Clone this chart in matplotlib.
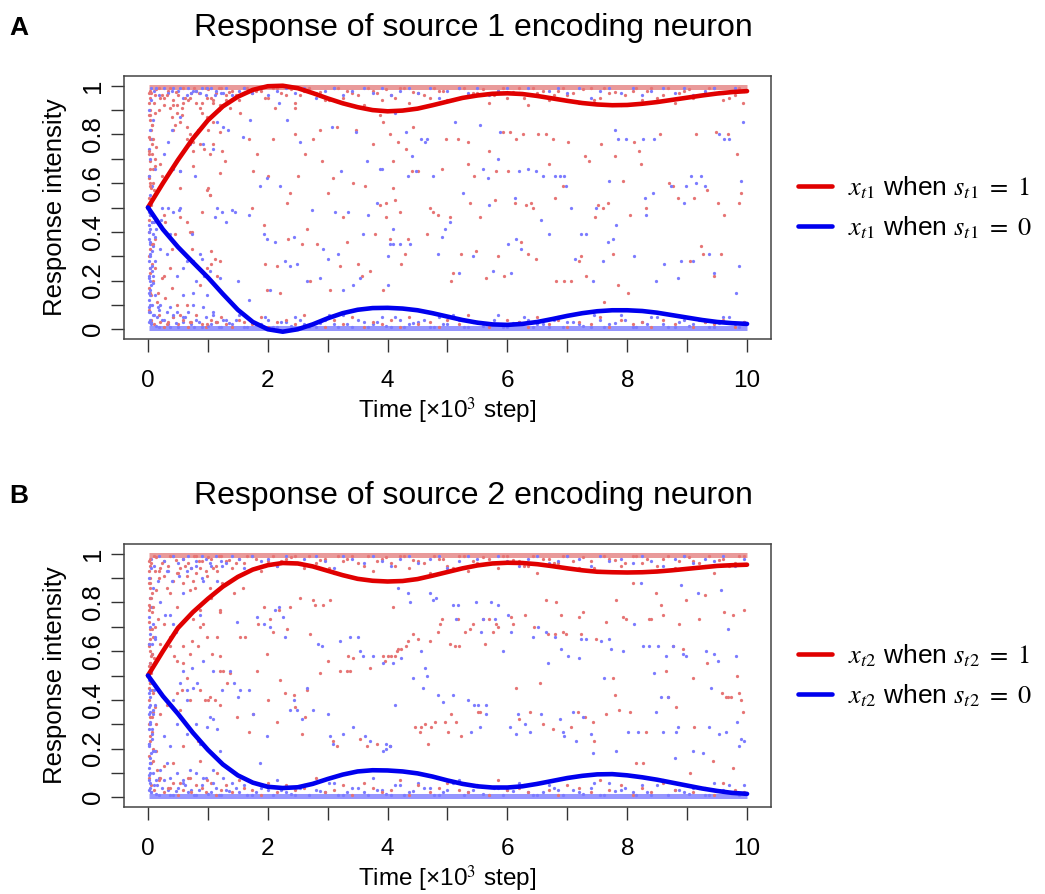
import numpy as np
import matplotlib
matplotlib.use('Agg')
import matplotlib.pyplot as plt

plt.rcParams['font.family'] = ['Liberation Sans', 'DejaVu Sans']
plt.rcParams['mathtext.fontset'] = 'stix'

# ---- mean response curves ----
curve_x = [0, 0.25, 0.5, 0.75, 1, 1.25, 1.5, 1.75, 2, 2.25, 2.5, 2.75, 3, 3.25, 3.5, 3.75, 4,
           4.25, 4.5, 4.75, 5, 5.25, 5.5, 5.75, 6, 6.25, 6.5, 6.75, 7, 7.25, 7.5, 7.75, 8,
           8.25, 8.5, 8.75, 9, 9.25, 9.5, 9.75, 10]
a_red_curve = [0.50, 0.60, 0.695, 0.783, 0.858, 0.915, 0.955, 0.983, 0.998, 1.0, 0.99, 0.97, 0.948,
               0.928, 0.912, 0.900, 0.895, 0.898, 0.906, 0.92, 0.935, 0.95, 0.96, 0.967, 0.969,
               0.966, 0.958, 0.948, 0.938, 0.929, 0.923, 0.92, 0.921, 0.926, 0.933, 0.942, 0.951,
               0.96, 0.968, 0.974, 0.978]
a_blue_curve = [0.50, 0.41, 0.338, 0.275, 0.213, 0.145, 0.08, 0.03, 0.0, -0.01, 0.0, 0.02, 0.045,
                0.066, 0.08, 0.087, 0.088, 0.085, 0.078, 0.066, 0.052, 0.038, 0.027, 0.02, 0.018,
                0.022, 0.03, 0.042, 0.055, 0.066, 0.074, 0.078, 0.078, 0.075, 0.068, 0.058, 0.048,
                0.038, 0.03, 0.025, 0.022]
b_red_curve = [0.50, 0.60, 0.695, 0.76, 0.815, 0.865, 0.905, 0.935, 0.953, 0.962, 0.96, 0.948, 0.93,
               0.912, 0.897, 0.889, 0.886, 0.888, 0.896, 0.91, 0.925, 0.94, 0.952, 0.96, 0.963,
               0.962, 0.957, 0.949, 0.94, 0.932, 0.926, 0.924, 0.923, 0.924, 0.927, 0.932, 0.938,
               0.944, 0.95, 0.953, 0.955]
b_blue_curve = [0.50, 0.415, 0.343, 0.265, 0.195, 0.135, 0.09, 0.06, 0.043, 0.038, 0.041, 0.055, 0.075,
                0.093, 0.106, 0.111, 0.11, 0.106, 0.098, 0.085, 0.069, 0.055, 0.045, 0.04, 0.04,
                0.045, 0.055, 0.067, 0.079, 0.088, 0.094, 0.095, 0.09, 0.082, 0.072, 0.06, 0.048,
                0.036, 0.026, 0.018, 0.014]

# ---- single-trial responses, panel A ----
a_red_x = [0.54,0.57,0.65,0.73,0.75,0.79,0.87,0.93,1.01,1.04,1.09,1.18,1.21,1.21,1.37,1.54,1.68,1.73,1.76,1.82,
           1.93,1.96,1.98,2.01,2.09,2.12,2.15,2.21,2.32,2.34,2.37,2.46,2.46,2.51,2.57,2.62,2.65,2.71,2.76,2.82,
           2.87,2.90,3.01,3.04,3.09,3.15,3.21,3.26,3.32,3.43,3.48,3.51,3.57,3.62,3.71,3.76,3.79,3.87,3.87,3.93,
           3.98,4.04,4.09,
           3.93,3.98,4.04,4.09,4.12,4.18,4.20,4.23,4.29,4.31,4.34,4.40,4.43,4.51,4.65,4.70,4.76,4.84,4.90,4.98,
           5.04,5.06,5.09,5.18,5.23,5.34,5.34,5.37,5.45,5.48,5.54,5.65,5.70,5.79,5.81,5.84,5.93,5.95,6.01,6.04,
           6.12,6.15,6.23,6.26,6.31,6.34,6.40,6.43,6.48,6.51,6.65,6.70,6.76,6.79,6.81,6.93,6.95,7.01,7.06,7.20,
           7.23,7.29,7.31,7.37,7.47,7.51,7.56,7.59,7.62,7.68,7.76,7.79,7.84,7.93,8.01,8.04,8.12,8.20,8.23,8.31,
           8.54,8.70,8.76,8.84,9.04,9.12,9.15,9.23,9.26,9.34,9.45,9.48,9.51,9.56,9.62,9.68,9.84,9.87,9.90,9.93,
           0.03,0.06,0.12,0.09,0.14,0.03,0.12,0.20,0.23,0.03,0.09,0.14,0.26,0.37,0.40,0.42,0.45,0.48,0.53,0.56,
           0.65,0.70,0.76,0.84,0.87,0.90,0.98,1.01,1.04,1.09,0.20,0.28,0.40,0.45,0.53,0.65,0.70,0.73,0.90,0.98,
           1.04,1.06,1.12,1.20,1.29,0.06,0.12,0.23,0.26,0.37,0.03,0.17,0.28,0.40,0.48,0.65,0.87,0.98,1.06,1.15,
           0.20,0.31,0.53,0.70,0.98,1.15,0.12,0.20,0.31,0.42,0.59,0.70,0.81,0.98,1.09,1.20,1.31,0.26,0.48,0.76,
           1.23,0.01,0.06]
a_red_y = [0.58,0.88,0.78,0.40,0.67,0.80,0.76,0.74,0.58,0.55,0.85,0.90,0.81,0.28,0.91,0.89,0.78,0.50,0.65,0.72,
           0.43,0.27,0.16,0.63,0.78,0.91,0.26,0.15,0.52,0.37,0.56,0.80,0.91,0.63,0.35,0.72,0.41,0.20,0.78,0.35,
           0.82,0.69,0.56,0.16,0.62,0.83,0.26,0.46,0.36,0.60,0.82,0.27,0.22,0.59,0.24,0.76,0.39,0.88,0.51,0.16,
           0.46,0.37,0.69,
           0.85,0.52,0.80,0.58,0.53,0.77,0.48,0.27,0.31,0.74,0.37,0.65,0.83,0.65,0.39,0.50,0.48,0.47,0.66,0.78,
           0.46,0.20,0.23,0.78,0.31,0.77,0.68,0.52,0.63,0.32,0.46,0.21,0.73,0.53,0.65,0.30,0.81,0.22,0.65,0.81,
           0.52,0.78,0.36,0.80,0.51,0.31,0.52,0.50,0.29,0.80,0.80,0.68,0.78,0.54,0.20,0.59,0.20,0.77,0.20,0.28,
           0.30,0.71,0.22,0.69,0.46,0.51,0.76,0.50,0.11,0.52,0.31,0.71,0.18,0.61,0.15,0.47,0.77,0.73,0.68,0.50,
           0.80,0.60,0.59,0.54,0.28,0.54,0.80,0.34,0.31,0.57,0.22,0.81,0.52,0.31,0.47,0.80,0.72,0.52,0.56,0.93,
           0.88,0.84,0.89,0.78,0.75,0.66,0.67,0.68,0.63,0.59,0.60,0.56,0.47,0.91,0.87,0.82,0.84,0.89,0.85,0.91,
           0.83,0.80,0.77,0.82,0.91,0.89,0.87,0.82,0.72,0.76,0.43,0.44,0.33,0.39,0.46,0.44,0.40,0.33,0.48,0.57,
           0.55,0.32,0.29,0.64,0.69,0.35,0.25,0.21,0.22,0.25,0.15,0.15,0.13,0.17,0.10,0.10,0.18,0.25,0.27,0.22,
           0.03,0.02,0.06,0.03,0.02,0.03,0.96,0.95,0.96,0.94,0.93,0.95,0.93,0.95,0.93,0.92,0.94,0.92,0.92,0.73,
           0.73,0.73,0.72]
a_blue_x = [0.21,0.23,0.37,0.51,0.54,0.65,0.73,0.79,0.87,0.93,1.04,1.09,1.15,1.15,1.23,1.34,1.40,1.46,1.51,1.59,
            1.68,1.68,1.71,1.87,1.93,1.98,1.98,2.04,2.12,2.18,2.21,2.29,2.32,2.37,2.43,2.48,2.54,2.65,2.73,2.87,
            2.93,3.01,3.07,3.12,3.18,3.23,3.26,3.34,3.43,3.48,3.54,3.59,3.65,3.68,3.82,3.87,4.01,4.09,4.12,
            3.90,4.01,4.04,4.09,4.20,4.31,4.34,4.37,4.40,4.48,4.56,4.62,4.65,4.76,4.84,4.90,4.95,5.04,5.12,5.20,
            5.26,5.43,5.54,5.59,5.68,5.70,5.76,5.84,5.87,6.01,6.06,6.12,6.15,6.20,6.23,6.34,6.48,6.56,6.59,6.70,
            6.79,6.87,6.95,6.98,7.06,7.12,7.23,7.31,7.43,7.48,7.59,7.68,7.70,7.76,7.79,7.81,7.84,7.98,8.12,8.26,
            8.29,8.31,8.43,8.45,8.48,8.62,8.73,8.84,8.90,8.95,8.98,9.06,9.09,9.15,9.23,9.29,9.37,9.45,9.54,9.62,
            9.70,9.81,9.87,9.90,9.93,
            0.03,0.06,0.01,0.03,0.09,0.14,0.06,0.12,0.03,0.09,0.03,0.01,0.12,0.06,0.03,0.09,0.17,0.20,0.31,0.37,
            0.42,0.48,0.59,0.76,0.92,1.09,1.26,0.34,0.42,0.53,0.20,0.31,0.48,0.59,0.76,0.81,0.90,1.04,1.20,0.59,
            0.76,0.98,0.53,0.40,0.34,0.26,0.53,0.70,0.92,1.26,1.31,1.12,0.14,0.53,0.76,0.98,1.26,0.40,0.65,0.87,
            1.12,0.28,0.42]
a_blue_y = [0.45,0.50,0.39,0.49,0.65,0.28,0.39,0.63,0.31,0.22,0.87,0.74,0.85,0.50,0.48,0.82,0.49,0.48,0.20,0.79,
            0.47,0.12,0.86,0.59,0.39,0.62,0.37,0.16,0.36,0.93,0.59,0.28,0.86,0.26,0.38,0.27,0.77,0.20,0.49,0.21,
            0.33,0.29,0.83,0.48,0.31,0.65,0.16,0.48,0.18,0.81,0.21,0.39,0.69,0.47,0.52,0.66,0.18,0.35,0.89,
            0.66,0.30,0.35,0.41,0.35,0.81,0.63,0.35,0.71,0.65,0.78,0.77,0.78,0.63,0.31,0.38,0.41,0.44,0.85,0.23,
            0.56,0.30,0.84,0.66,0.62,0.51,0.24,0.70,0.81,0.35,0.23,0.54,0.37,0.65,0.33,0.66,0.65,0.45,0.63,0.39,
            0.63,0.63,0.63,0.59,0.50,0.29,0.39,0.39,0.20,0.50,0.28,0.36,0.61,0.37,0.82,0.43,0.78,0.78,0.30,0.78,
            0.54,0.47,0.56,0.78,0.20,0.27,0.59,0.21,0.28,0.52,0.59,0.63,0.28,0.60,0.63,0.59,0.31,0.23,0.80,0.78,
            0.78,0.15,0.26,0.61,0.85,
            0.47,0.44,0.40,0.36,0.39,0.41,0.32,0.28,0.25,0.22,0.20,0.15,0.14,0.10,0.07,0.06,0.09,0.10,0.07,0.09,
            0.06,0.07,0.05,0.10,0.09,0.07,0.04,0.50,0.48,0.50,0.33,0.31,0.22,0.25,0.28,0.20,0.29,0.24,0.21,0.14,
            0.15,0.14,0.87,0.82,0.77,0.72,0.65,0.76,0.76,0.83,0.44,0.46,0.99,0.99,0.98,0.99,0.97,0.98,0.96,0.97,
            0.96,0.62,0.66]

# points lying close to the upper / lower edges (both panels share these positions)
edge_x = [0.05,0.10,0.18,0.27,0.33,0.41,0.50,0.58,0.66,0.72,0.80,0.90,0.97,1.05,1.13,1.22,1.30,1.41,1.52,1.60,
          1.74,1.88,2.00,2.15,2.30,2.45,2.60,2.80,2.95,3.10,3.25,3.40,3.60,3.75,3.90,4.05,4.20,4.35,4.50,4.70,
          4.85,5.00,5.20,5.35,5.50,5.70,5.85,6.00,6.20,6.35,6.50,6.70,6.85,7.00,7.20,7.40,7.55,7.70,7.90,8.10,
          8.25,8.40,8.60,8.80,8.95,9.10,9.30,9.45,9.60,9.80,9.95]
edge2_x = [0.14,0.23,0.37,0.46,0.62,0.77,0.85,1.00,1.09,1.18,1.35,1.47,1.66,1.81,1.95,2.08,2.22,2.38,2.53,2.68,
           2.87,3.03,3.18,3.33,3.50,3.67,3.83,3.97,4.13,4.28,4.43,4.60,4.77,4.93,5.10,5.27,5.43,5.60,5.77,5.93,
           6.10,6.27,6.43,6.60,6.77,6.93,7.10,7.27,7.45,7.62,7.80,7.97,8.15,8.33,8.50,8.68,8.87,9.03,9.20,9.37,
           9.53,9.70,9.87]
top2_y = [0.985,0.96,0.99,0.975,0.95,0.99,0.97,0.985,0.94,0.99,0.975,0.96,0.99,0.98,0.95,0.99,0.97,0.985,0.96,0.99,
          0.975,0.94,0.99,0.98,0.96,0.99,0.97,0.985,0.95,0.99,0.975,0.96,0.99,0.98,0.94,0.99,0.97,0.985,0.96,0.99,
          0.975,0.95,0.99,0.98,0.96,0.99,0.97,0.985,0.94,0.99,0.975,0.96,0.99,0.98,0.95,0.99,0.97,0.985,0.96,0.99,
          0.975,0.95,0.99]
bot2_y = [0.015,0.04,0.01,0.025,0.05,0.01,0.03,0.015,0.06,0.01,0.025,0.04,0.01,0.02,0.05,0.01,0.03,0.015,0.04,0.01,
          0.025,0.06,0.01,0.02,0.04,0.01,0.03,0.015,0.05,0.01,0.025,0.04,0.01,0.02,0.06,0.01,0.03,0.015,0.04,0.01,
          0.025,0.05,0.01,0.02,0.04,0.01,0.03,0.015,0.06,0.01,0.025,0.04,0.01,0.02,0.05,0.01,0.03,0.015,0.04,0.01,
          0.025,0.05,0.01]
# dense column of responses right after the start
strip_x = [0.01,0.02,0.04,0.03,0.05,0.02,0.06,0.01,0.03,0.08,0.02,0.04,0.10,0.01,0.05,0.03,0.07,0.02,0.12,0.04,
           0.01,0.06,0.03,0.09,0.02,0.05,0.15,0.01,0.04,0.02,0.07,0.03,0.11,0.01,0.05,0.02,0.08,0.04,0.18,0.03]
strip_red_y = [0.97,0.93,0.90,0.86,0.82,0.79,0.76,0.72,0.69,0.66,0.63,0.60,0.57,0.54,0.51,0.47,0.44,0.40,0.37,0.33,
               0.30,0.27,0.23,0.20,0.17,0.14,0.11,0.08,0.95,0.88,0.84,0.78,0.70,0.62,0.58,0.45,0.35,0.25,0.90,0.98]
strip_blue_y = [0.03,0.07,0.10,0.14,0.18,0.21,0.24,0.28,0.31,0.34,0.37,0.41,0.44,0.48,0.52,0.55,0.59,0.63,0.66,0.70,
                0.74,0.78,0.82,0.86,0.90,0.94,0.05,0.12,0.16,0.22,0.26,0.30,0.38,0.43,0.02,0.09,0.19,0.35,0.08,0.04]

a_red_top_y = [0.97,0.93,0.99,0.95,0.98,0.92,0.96,0.99,0.94,0.97,0.98,0.93,0.99,0.95,0.97,0.99,0.96,0.98,0.94,0.99,
               0.97,0.98,0.95,0.99,0.96,0.93,0.98,0.97,0.94,0.99,0.95,0.97,0.92,0.98,0.94,0.96,0.99,0.93,0.97,0.95,
               0.98,0.94,0.99,0.96,0.97,0.93,0.98,0.95,0.99,0.92,0.97,0.94,0.98,0.96,0.93,0.99,0.95,0.97,0.92,0.98,
               0.94,0.99,0.96,0.93,0.98,0.95,0.97,0.99,0.94,0.96,0.98]
a_blue_top_y = [0.99,0.98,0.96,0.99,0.97,0.99,0.98,0.95,0.99,0.97,0.98,0.99,0.96,0.99,0.98,0.97,0.99,0.96,0.98,0.99,
                0.97,0.99,0.96,0.98,0.99,0.97,0.99,0.95,0.98,0.99,0.96,0.98,0.99,0.97,0.99,0.96,0.98,0.99,0.97,0.99,
                0.95,0.98,0.99,0.97,0.99,0.96,0.98,0.99,0.97,0.99,0.96,0.98,0.99,0.97,0.99,0.95,0.98,0.99,0.97,0.99,
                0.96,0.98,0.99,0.97,0.99,0.96,0.98,0.99,0.97,0.99,0.98]
a_blue_bot_y = [0.03,0.06,0.01,0.04,0.02,0.05,0.01,0.03,0.07,0.02,0.04,0.01,0.05,0.02,0.03,0.01,0.04,0.02,0.06,0.01,
                0.03,0.02,0.04,0.01,0.03,0.05,0.02,0.01,0.04,0.02,0.06,0.01,0.03,0.02,0.05,0.01,0.04,0.02,0.03,0.01,
                0.05,0.02,0.04,0.01,0.03,0.02,0.06,0.01,0.03,0.04,0.02,0.01,0.05,0.03,0.02,0.01,0.04,0.02,0.06,0.01,
                0.03,0.05,0.02,0.01,0.04,0.02,0.03,0.01,0.05,0.02,0.03]
a_red_bot_y = [0.04,0.02,0.06,0.01,0.03,0.05,0.02,0.04,0.01,0.03,0.06,0.02,0.01,0.04,0.03,0.05,0.02,0.01,0.04,0.03,
               0.02,0.05,0.01,0.03,0.04,0.02,0.06,0.03,0.01,0.04,0.02,0.05,0.01,0.03,0.02,0.04,0.01,0.05,0.02,0.03,
               0.01,0.04,0.02,0.06,0.03,0.01,0.02,0.04,0.03,0.01,0.05,0.02,0.04,0.01,0.03,0.02,0.05,0.01,0.04,0.02,
               0.03,0.01,0.04,0.02,0.05,0.01,0.03,0.02,0.04,0.01,0.03]

# ---- single-trial responses, panel B ----
b_red_x = [0.37,0.43,0.48,0.57,0.59,0.65,0.73,0.79,0.84,0.87,0.96,1.01,1.07,1.12,1.15,1.21,1.21,1.26,1.32,1.37,
           1.43,1.48,1.54,1.59,1.62,1.68,1.76,1.82,1.84,1.93,1.98,2.01,2.04,2.09,2.15,2.18,2.21,2.29,2.32,2.37,
           2.43,2.46,2.54,2.57,2.62,2.65,2.71,2.76,2.79,2.87,2.93,3.01,3.04,3.09,3.15,3.21,3.32,3.34,3.37,3.43,
           3.54,3.65,3.71,3.82,3.93,4.04,4.09,4.15,
           3.95,4.01,4.06,4.12,4.18,4.23,4.31,4.34,4.43,4.45,4.51,4.54,4.56,4.62,4.68,4.70,4.73,4.79,4.84,4.87,
           4.90,4.95,5.01,5.04,5.06,5.12,5.15,5.18,5.20,5.23,5.29,5.37,5.43,5.51,5.54,5.59,5.62,5.70,5.76,5.81,
           5.84,6.06,6.09,6.15,6.20,6.29,6.37,6.45,6.54,6.59,6.65,6.68,6.76,6.79,6.81,6.90,6.93,6.98,7.06,7.18,
           7.20,7.23,7.26,7.29,7.43,7.45,7.48,7.65,7.65,7.76,7.79,7.81,7.87,7.93,7.98,8.04,8.09,8.15,8.26,8.31,
           8.37,8.40,8.48,8.56,8.59,8.65,8.68,8.76,8.81,8.87,8.93,8.98,9.04,9.09,9.12,9.20,9.29,9.34,9.43,9.59,
           9.65,9.68,9.73,9.76,9.84,9.87,9.90,9.93,9.95,9.62,9.76,
           0.03,0.03,0.01,0.06,0.03,0.06,0.12,0.03,0.09,0.14,0.12,0.20,0.26,0.31,0.37,0.42,0.48,0.53,0.59,0.65,
           0.70,0.76,0.81,0.87,0.98,1.04,1.15,1.23,1.20,1.06,0.92,0.87,0.76,0.26,0.17,0.20,0.37,0.48,0.59,0.70,
           0.84,0.98,1.20,0.03,0.09,0.06,0.14,0.20,0.31,0.48,0.53,0.70,0.87,1.04,1.20,0.59,0.42,0.26,0.20,0.37,
           0.53,0.70,0.87,0.98,1.15,0.09,0.14]
b_red_y = [0.66,0.58,0.78,0.44,0.62,0.49,0.64,0.86,0.23,0.70,0.40,0.40,0.59,0.40,0.66,0.58,0.76,0.52,0.47,0.51,
           0.84,0.33,0.66,0.86,0.66,0.27,0.34,0.52,0.71,0.78,0.59,0.40,0.73,0.68,0.31,0.77,0.48,0.43,0.69,0.78,
           0.42,0.37,0.82,0.26,0.33,0.44,0.67,0.81,0.79,0.51,0.79,0.56,0.81,0.23,0.21,0.52,0.52,0.58,0.52,0.57,
           0.24,0.21,0.53,0.22,0.58,0.21,0.78,0.60,
           0.56,0.58,0.58,0.58,0.61,0.61,0.62,0.64,0.67,0.29,0.65,0.27,0.29,0.30,0.22,0.64,0.29,0.31,0.68,0.71,
           0.73,0.31,0.27,0.63,0.34,0.62,0.31,0.73,0.62,0.25,0.68,0.69,0.71,0.35,0.35,0.73,0.63,0.73,0.68,0.71,
           0.70,0.74,0.71,0.45,0.32,0.75,0.35,0.70,0.47,0.30,0.81,0.67,0.28,0.67,0.80,0.75,0.68,0.67,0.29,0.35,
           0.74,0.67,0.76,0.33,0.31,0.23,0.65,0.34,0.72,0.49,0.42,0.81,0.36,0.74,0.73,0.35,0.88,0.14,0.14,0.27,
           0.73,0.73,0.84,0.79,0.75,0.52,0.41,0.62,0.37,0.71,0.61,0.81,0.10,0.49,0.29,0.73,0.83,0.55,0.15,0.43,
           0.41,0.41,0.41,0.12,0.50,0.43,0.40,0.35,0.77,0.76,0.75,
           0.88,0.82,0.77,0.69,0.65,0.59,0.55,0.55,0.78,0.85,0.93,0.94,0.91,0.86,0.84,0.89,0.92,0.94,0.88,0.91,
           0.85,0.89,0.92,0.94,0.91,0.86,0.93,0.88,0.77,0.82,0.71,0.77,0.73,0.71,0.73,0.63,0.62,0.56,0.55,0.59,
           0.62,0.66,0.52,0.47,0.43,0.33,0.30,0.34,0.38,0.43,0.36,0.40,0.44,0.41,0.38,0.21,0.14,0.13,0.08,0.04,
           0.06,0.08,0.15,0.07,0.10,0.15,0.19]
b_blue_x = [0.37,0.46,0.54,0.65,0.73,0.82,0.90,0.98,1.09,1.15,1.23,1.37,1.43,1.48,1.51,1.54,1.68,1.76,1.82,1.87,
            1.93,1.98,2.04,2.12,2.18,2.26,2.29,2.37,2.43,2.48,2.57,2.65,2.76,2.84,2.90,3.01,3.04,3.09,3.21,3.26,
            3.37,3.43,3.51,3.54,3.59,3.62,3.71,3.76,3.93,3.98,4.04,4.12,
            3.93,3.98,4.04,4.09,4.18,4.23,4.34,4.37,4.43,4.56,4.59,4.62,4.65,4.70,4.76,4.81,4.84,4.93,5.09,5.09,
            5.18,5.15,5.34,5.40,5.45,5.48,5.51,5.54,5.56,5.59,5.65,5.65,5.73,5.79,5.84,5.93,6.01,6.04,6.06,6.15,
            6.18,6.29,6.37,6.43,6.51,6.56,6.65,6.68,6.79,6.87,6.90,6.93,6.95,7.01,7.09,7.15,7.20,7.23,7.26,7.31,
            7.40,7.43,7.56,7.62,7.70,7.73,7.81,7.93,8.01,8.12,8.18,8.23,8.26,8.37,8.45,8.48,8.51,8.56,8.59,8.65,
            8.68,8.76,8.79,8.81,8.84,8.90,8.93,8.98,9.09,9.18,9.26,9.31,9.37,9.40,9.45,9.51,9.54,9.56,9.65,9.68,
            9.81,9.84,9.87,9.90,9.95,
            0.03,0.06,0.09,0.12,0.20,0.28,0.17,0.31,0.40,0.51,0.59,0.65,0.81,0.92,1.04,1.23,0.42,0.87,0.03,0.03,
            0.01,0.09,0.06,0.01,0.12,0.03,0.09,0.03,0.14,0.20,0.31,0.37,0.48,0.59,0.70,0.81,0.92,1.09,1.26,0.26,
            0.37,0.48,0.65,0.81,0.87,1.04,1.15,1.20,0.42,0.65,0.53,0.92,1.09,0.59,0.76]
b_blue_y = [0.75,0.68,0.33,0.44,0.53,0.47,0.90,0.29,0.32,0.89,0.44,0.52,0.47,0.72,0.41,0.44,0.44,0.34,0.74,0.14,
            0.71,0.25,0.70,0.77,0.78,0.74,0.66,0.36,0.40,0.36,0.32,0.45,0.36,0.63,0.62,0.34,0.25,0.22,0.64,0.26,
            0.66,0.29,0.66,0.60,0.58,0.25,0.23,0.58,0.55,0.22,0.21,0.38,
            0.19,0.20,0.21,0.55,0.86,0.57,0.84,0.80,0.49,0.60,0.45,0.53,0.50,0.84,0.81,0.82,0.42,0.39,0.79,0.42,
            0.79,0.73,0.40,0.27,0.38,0.80,0.38,0.29,0.68,0.73,0.38,0.34,0.80,0.73,0.79,0.60,0.75,0.29,0.68,0.26,
            0.34,0.30,0.27,0.66,0.70,0.34,0.68,0.55,0.66,0.32,0.61,0.27,0.25,0.58,0.35,0.23,0.57,0.65,0.33,0.65,
            0.26,0.18,0.64,0.49,0.65,0.61,0.19,0.60,0.27,0.71,0.27,0.88,0.62,0.62,0.51,0.35,0.62,0.41,0.27,0.58,
            0.41,0.62,0.16,0.27,0.29,0.87,0.59,0.58,0.19,0.84,0.18,0.60,0.29,0.45,0.59,0.56,0.26,0.85,0.27,0.69,
            0.58,0.31,0.21,0.24,0.23,
            0.67,0.63,0.71,0.65,0.80,0.75,0.89,0.93,0.89,0.91,0.84,0.93,0.95,0.89,0.96,0.95,0.71,0.75,0.44,0.38,
            0.34,0.36,0.28,0.22,0.19,0.14,0.10,0.06,0.07,0.11,0.14,0.08,0.10,0.07,0.11,0.10,0.08,0.11,0.08,0.25,
            0.21,0.30,0.26,0.30,0.22,0.33,0.28,0.19,0.40,0.40,0.47,0.56,0.52,0.52,0.45]
b_red_top_y = [0.96,0.99,0.93,0.97,0.95,0.99,0.92,0.98,0.96,0.94,0.99,0.97,0.93,0.98,0.95,0.99,0.97,0.94,0.98,0.96,
               0.99,0.93,0.97,0.95,0.98,0.99,0.94,0.96,0.98,0.92,0.97,0.99,0.95,0.93,0.98,0.96,0.99,0.94,0.97,0.92,
               0.98,0.95,0.99,0.93,0.96,0.98,0.94,0.99,0.97,0.95,0.92,0.98,0.96,0.99,0.94,0.97,0.93,0.98,0.95,0.99,
               0.96,0.93,0.98,0.94,0.99,0.97,0.95,0.92,0.98,0.96,0.99]
b_blue_top_y = [0.98,0.95,0.99,0.97,0.93,0.99,0.96,0.98,0.99,0.94,0.97,0.99,0.98,0.95,0.99,0.97,0.96,0.99,0.98,0.94,
                0.99,0.97,0.98,0.95,0.99,0.96,0.98,0.99,0.97,0.94,0.99,0.98,0.96,0.99,0.97,0.95,0.98,0.99,0.96,0.98,
                0.99,0.94,0.97,0.99,0.98,0.96,0.99,0.97,0.95,0.98,0.99,0.96,0.97,0.99,0.98,0.95,0.99,0.97,0.98,0.96,
                0.99,0.97,0.95,0.98,0.99,0.96,0.98,0.97,0.99,0.95,0.98]
b_blue_bot_y = [0.02,0.05,0.01,0.07,0.03,0.01,0.04,0.06,0.02,0.03,0.01,0.05,0.08,0.02,0.04,0.01,0.03,0.06,0.02,0.05,
                0.01,0.04,0.03,0.07,0.02,0.01,0.05,0.03,0.02,0.06,0.01,0.04,0.02,0.08,0.03,0.01,0.05,0.02,0.06,0.04,
                0.01,0.03,0.07,0.02,0.05,0.01,0.04,0.03,0.06,0.02,0.01,0.05,0.03,0.08,0.02,0.04,0.01,0.06,0.03,0.02,
                0.05,0.01,0.07,0.03,0.02,0.04,0.01,0.06,0.03,0.02,0.05]
b_red_bot_y = [0.05,0.03,0.07,0.02,0.04,0.06,0.01,0.03,0.08,0.02,0.05,0.04,0.02,0.06,0.01,0.03,0.05,0.02,0.07,0.04,
               0.03,0.01,0.06,0.02,0.05,0.03,0.04,0.08,0.02,0.03,0.05,0.01,0.06,0.04,0.02,0.03,0.07,0.01,0.05,0.02,
               0.04,0.06,0.03,0.02,0.05,0.01,0.07,0.03,0.04,0.02,0.06,0.03,0.01,0.05,0.04,0.02,0.07,0.03,0.05,0.01,
               0.04,0.02,0.06,0.03,0.05,0.02,0.04,0.01,0.06,0.03,0.02]

# the saturated responses sit on y = 1 (red) and y = 0 (blue)
band_x = [0.02, 10]
band_red_y = [0.994, 0.994]
band_blue_y = [0.006, 0.006]

titles = ["Response of source 1 encoding neuron", "Response of source 2 encoding neuron"]
letters = ["A", "B"]
legend_red = [r"$x_{t1}$ when $s_{t1}\ =\ 1$", r"$x_{t2}$ when $s_{t2}\ =\ 1$"]
legend_blue = [r"$x_{t1}$ when $s_{t1}\ =\ 0$", r"$x_{t2}$ when $s_{t2}\ =\ 0$"]

RED_PT = '#e67474'
BLUE_PT = '#7b7bff'
RED_LN = '#e00000'
BLUE_LN = '#0000ee'
PT = 5.5

W, H = 1045, 894
fig = plt.figure(figsize=(W / 100, H / 100), dpi=100)


def draw_panel(idx, top_px, data):
	(red_x, red_y, blue_x, blue_y, red_top, blue_top, blue_bot, red_bot,
	 red_curve, blue_curve) = data
	ax = fig.add_axes([124 / W, 1 - (top_px + 263) / H, 647 / W, 263 / H])
	ax.plot(band_x, band_red_y, color='#e99a9a', lw=3.6, solid_capstyle='butt', zorder=1)
	ax.plot(band_x, band_blue_y, color='#9696ff', lw=3.6, solid_capstyle='butt', zorder=1)
	ax.scatter(edge_x, red_top, s=PT, color=RED_PT, lw=0, zorder=2)
	ax.scatter(edge_x, blue_bot, s=PT, color=BLUE_PT, lw=0, zorder=2)
	ax.scatter(edge_x, blue_top, s=PT, color=BLUE_PT, lw=0, zorder=2)
	ax.scatter(edge_x, red_bot, s=PT, color=RED_PT, lw=0, zorder=2)
	ax.scatter(edge2_x, top2_y, s=PT, color=RED_PT, lw=0, zorder=2)
	ax.scatter(edge2_x, bot2_y, s=PT, color=BLUE_PT, lw=0, zorder=2)
	ax.scatter(strip_x, strip_red_y, s=PT, color=RED_PT, lw=0, zorder=2)
	ax.scatter(strip_x, strip_blue_y, s=PT, color=BLUE_PT, lw=0, zorder=2)
	ax.scatter(red_x, red_y, s=PT, color=RED_PT, lw=0, zorder=2)
	ax.scatter(blue_x, blue_y, s=PT, color=BLUE_PT, lw=0, zorder=2)
	l1, = ax.plot(curve_x, red_curve, color=RED_LN, lw=3.3, zorder=3, solid_capstyle='round')
	l2, = ax.plot(curve_x, blue_curve, color=BLUE_LN, lw=3.3, zorder=3, solid_capstyle='round')

	ax.set_xlim(-0.4, 10.4)
	ax.set_ylim(-0.04, 1.04)
	ax.set_xticks(range(0, 11))
	ax.set_xticklabels([str(i) if i % 2 == 0 else '' for i in range(11)])
	ax.set_yticks(np.arange(0, 1.01, 0.1))
	ax.set_yticklabels(['0' if i == 0 else ('1' if i == 10 else ('%.1f' % (i / 10) if i % 2 == 0 else ''))
		for i in range(11)], rotation=90, va='center')
	ax.tick_params(axis='x', length=9.5, width=1, labelsize=17.5, pad=13, color='#333333')
	ax.tick_params(axis='y', length=9.5, width=1, labelsize=18.5, pad=4, color='#333333')
	for sp in ax.spines.values():
		sp.set_color('#444444')
		sp.set_linewidth(1.1)
	ax.set_xlabel('Time [×10$^3$ step]', fontsize=17.5, labelpad=2)
	ax.set_ylabel('Response intensity', fontsize=18.5, labelpad=10)

	fig.text(473 / W, 1 - (top_px - 48) / H, titles[idx], fontsize=23, ha='center', va='center')
	fig.text(19 / W, 1 - (top_px - 48) / H, letters[idx], fontsize=19, fontweight='bold',
		ha='center', va='center')
	ax.legend([l1, l2], [legend_red[idx], legend_blue[idx]], loc='center left',
		bbox_to_anchor=(1.042, 0.5), frameon=False, fontsize=19, handlelength=1.3,
		handletextpad=0.6, labelspacing=0.5, borderpad=0, borderaxespad=0)


draw_panel(0, 76, (a_red_x, a_red_y, a_blue_x, a_blue_y, a_red_top_y, a_blue_top_y,
	a_blue_bot_y, a_red_bot_y, a_red_curve, a_blue_curve))
draw_panel(1, 544, (b_red_x, b_red_y, b_blue_x, b_blue_y, b_red_top_y, b_blue_top_y,
	b_blue_bot_y, b_red_bot_y, b_red_curve, b_blue_curve))

fig.savefig('out.png', dpi=100)
